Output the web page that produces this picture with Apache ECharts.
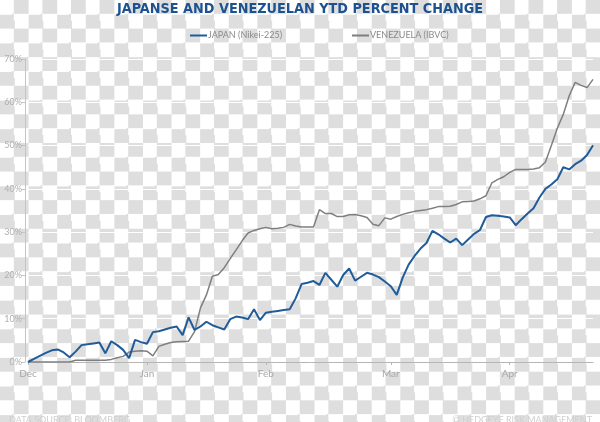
<!DOCTYPE html>
<html>
<head>
<meta charset="utf-8">
<script src="https://cdn.jsdelivr.net/npm/echarts@6/dist/echarts.min.js"></script>
<style>
html,body{margin:0;padding:0;}
body{width:600px;height:422px;overflow:hidden;
background: repeating-conic-gradient(#dedede 0 25%, #ffffff 0 50%) 0 0 / 28.6px 28.6px;}
#chart{width:600px;height:422px;}
</style>
</head>
<body>
<div id="chart"></div>
<script>
const monthLabels = ['Dec','Jan','Feb','Mar','Apr'];
const monthStartIndex = [0,20,40,61,81];
const pointCount = 96;

const yTickValues = [0,10,20,30,40,50,60,70];

const japan = [
0, 0.7, 1.4, 2.1, 2.7, 2.9, 2.2, 1.1, 2.4, 3.9,
4.1, 4.3, 4.5, 2.0, 4.8, 3.9, 2.8, 0.9, 5.1, 4.6,
4.2, 6.9, 7.1, 7.5, 7.9, 8.2, 6.2, 10.3, 7.4, 8.2,
9.3, 8.5, 8.0, 7.5, 9.9, 10.5, 10.3, 9.9, 12.2, 9.7,
11.4, 11.6, 11.8, 12.0, 12.2, 14.7, 18.0, 18.3, 18.7, 17.8,
20.6, 19.0, 17.4, 20.1, 21.6, 18.8, 19.7, 20.6, 20.2, 19.6,
18.6, 17.5, 15.5, 19.5, 22.5, 24.5, 26.2, 27.5, 30.3, 29.5,
28.5, 27.6, 28.5, 27.0, 28.3, 29.6, 30.5, 33.5, 33.9, 33.8,
33.6, 33.4, 31.6, 33.0, 34.3, 35.5, 38.0, 40.0, 41.0, 42.2,
45.0, 44.5, 45.7, 46.5, 47.8, 50.1
];

const venezuela = [
0, 0, 0, 0, 0, 0, 0, 0, 0.4, 0.4,
0.4, 0.4, 0.4, 0.4, 0.6, 1.0, 1.3, 2.3, 2.5, 2.6,
2.5, 1.4, 3.6, 4.1, 4.5, 4.7, 4.75, 4.8, 7.0, 12.5,
15.5, 19.8, 20.2, 21.8, 23.9, 25.9, 28.0, 29.8, 30.4, 30.8,
31.1, 30.8, 30.9, 31.1, 31.8, 31.4, 31.2, 31.2, 31.2, 35.2,
34.3, 34.3, 33.6, 33.6, 34.0, 34.1, 33.8, 33.4, 31.8, 31.5,
33.3, 33.0, 33.6, 34.1, 34.5, 34.8, 35.0, 35.2, 35.5, 35.9,
35.9, 36.0, 36.4, 37.0, 37.1, 37.2, 37.7, 38.4, 41.4, 42.2,
42.8, 43.8, 44.5, 44.5, 44.5, 44.6, 44.9, 46.2, 50.0, 54.0,
57.2, 61.5, 64.6, 63.9, 63.4, 65.3
];

// build category list: "<Month> <trading day>"
const categories = [];
for (let i = 0; i < pointCount; i++) {
  let m = 0;
  for (let k = 0; k < monthStartIndex.length; k++) if (i >= monthStartIndex[k]) m = k;
  categories.push(monthLabels[m] + ' ' + (i - monthStartIndex[m] + 1));
}
const isMonthStart = (idx) => monthStartIndex.indexOf(idx) >= 0;

const smallFont = 'Lato, "Open Sans", sans-serif';

const chart = echarts.init(document.getElementById('chart'), null, {renderer: 'canvas'});
chart.setOption({
  backgroundColor: 'transparent',
  animation: false,
  title: [
    {
      text: 'JAPANSE AND VENEZUELAN YTD PERCENT CHANGE',
      left: 'center', top: -3,
      textStyle: {fontFamily: '"Liberation Sans Narrow", "DejaVu Sans Condensed", sans-serif', fontWeight: 'bold', fontSize: 14.3, color: '#1d5290'}
    },
    {
      text: 'DATA SOURCE: BLOOMBERG',
      left: 4, top: 411,
      textStyle: {fontFamily: smallFont, fontWeight: 'normal', fontSize: 9, color: '#cfcfcf'}
    },
    {
      text: '© HEDGEYE RISK MANAGEMENT',
      right: 3, top: 411,
      textStyle: {fontFamily: smallFont, fontWeight: 'normal', fontSize: 9, color: '#cfcfcf'}
    }
  ],
  legend: [
    {
      data: ['JAPAN (Nikei-225)'],
      left: 185, top: 26,
      icon: 'rect', itemWidth: 17, itemHeight: 2,
      textStyle: {fontFamily: smallFont, fontSize: 9, color: '#8a8a8a', padding: [0,0,0,-4]}
    },
    {
      data: ['VENEZUELA (IBVC)'],
      left: 347, top: 26,
      icon: 'rect', itemWidth: 17, itemHeight: 2,
      textStyle: {fontFamily: smallFont, fontSize: 9, color: '#8a8a8a', padding: [0,0,0,-4]}
    }
  ],
  grid: {left: 28, right: 7, top: 59, bottom: 60, containLabel: false},
  xAxis: {
    type: 'category',
    data: categories,
    boundaryGap: false,
    axisLine: {show: true, lineStyle: {color: '#b5b5b5', width: 1}},
    axisTick: {show: true, interval: (idx) => isMonthStart(idx), length: 3, lineStyle: {color: '#b5b5b5'}},
    axisLabel: {
      interval: (idx) => isMonthStart(idx),
      formatter: (v) => v.split(' ')[0],
      fontFamily: smallFont, fontSize: 10, color: '#a8a8a8', margin: 7
    },
    splitLine: {show: false}
  },
  yAxis: {
    type: 'value',
    min: yTickValues[0], max: yTickValues[yTickValues.length - 1], interval: 10,
    offset: 3,
    axisLine: {show: true, lineStyle: {color: '#c4c4c4', width: 1}},
    axisTick: {show: true, length: 4, lineStyle: {color: '#c4c4c4'}},
    axisLabel: {formatter: '{value}%', fontFamily: smallFont, fontSize: 9, color: '#b0b0b0', margin: 3},
    splitLine: {show: true, lineStyle: {color: '#ffffff', width: 1}}
  },
  series: [
    {
      name: 'JAPAN (Nikei-225)',
      type: 'line',
      data: japan,
      symbol: 'none',
      lineStyle: {color: '#1f5c99', width: 2},
      itemStyle: {color: '#1f5c99'},
      z: 3
    },
    {
      name: 'VENEZUELA (IBVC)',
      type: 'line',
      data: venezuela,
      symbol: 'none',
      lineStyle: {color: '#7f7f7f', width: 1.5},
      itemStyle: {color: '#7f7f7f'},
      z: 2
    }
  ]
});
</script>
</body>
</html>
